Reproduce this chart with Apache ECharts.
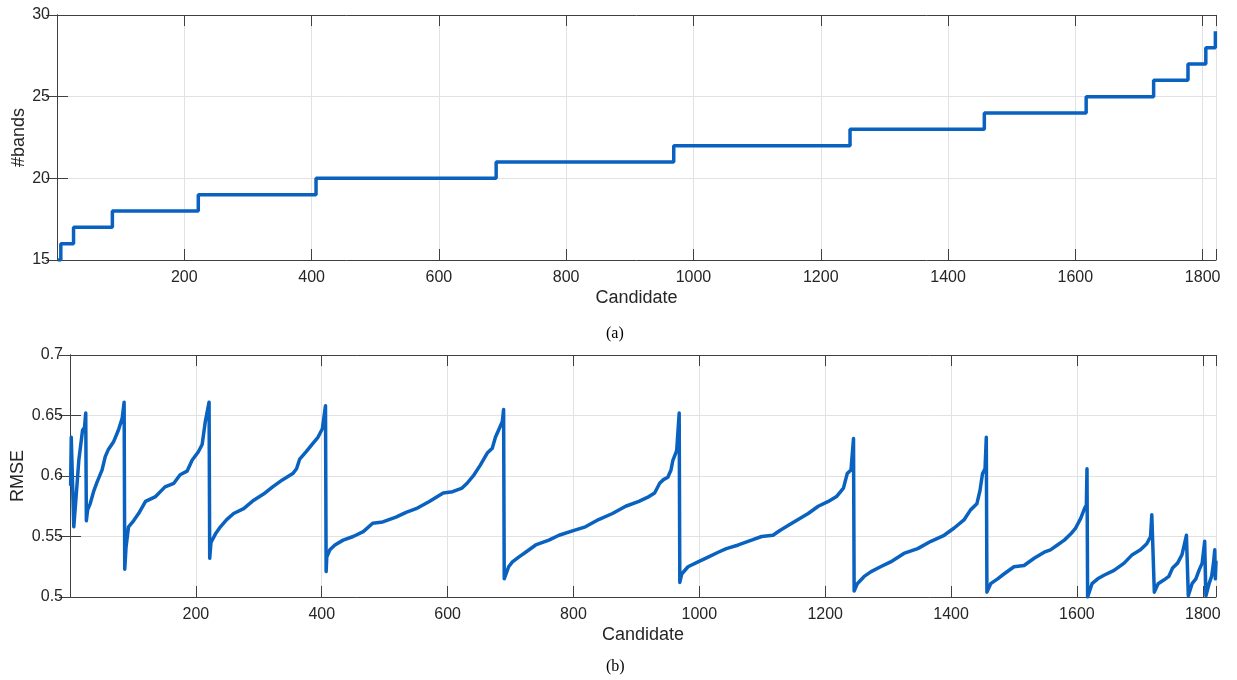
<!DOCTYPE html>
<html><head><meta charset="utf-8">
<script src="https://cdn.jsdelivr.net/npm/echarts@6/dist/echarts.min.js"></script>
<style>html,body{margin:0;padding:0;background:#fff}#c{width:1237px;height:680px}</style>
</head><body><div id="c"></div>
<script>
// ---- data ----
const xTickLabels = [200, 400, 600, 800, 1000, 1200, 1400, 1600, 1800];
const bandTicks = [15, 20, 25, 30];
const rmseTicks = [0.5, 0.55, 0.6, 0.65, 0.7];

// candidate index at which each band count begins
const bandStarts = [1, 6, 26, 87, 222, 407, 690, 969, 1246, 1457, 1617, 1723, 1777, 1805, 1820];
const bandCounts = [15, 16, 17, 18, 19, 20, 21, 22, 23, 24, 25, 26, 27, 28, 29];
const lastCandidate = 1821;

// [candidate, RMSE]
const rmsePoints = [
  [1,0.592],[2,0.632],[5,0.632],
  [6,0.558],[10,0.585],[14,0.613],[20,0.638],[23,0.640],[25,0.652],
  [26,0.563],[28,0.572],[32,0.577],[38,0.588],[43,0.595],[51,0.605],[56,0.616],[61,0.622],[69,0.628],[77,0.638],[83,0.648],[86,0.661],
  [87,0.523],[89,0.541],[93,0.558],[101,0.563],[109,0.569],[120,0.579],[136,0.583],[151,0.591],[165,0.594],[175,0.601],[186,0.604],[194,0.613],[204,0.620],[210,0.626],[215,0.645],[221,0.661],
  [222,0.532],[224,0.545],[231,0.552],[239,0.558],[249,0.564],[260,0.569],[276,0.573],[292,0.580],[310,0.586],[322,0.591],[338,0.597],[354,0.602],[360,0.606],[365,0.614],[375,0.620],[386,0.627],[394,0.632],[401,0.639],[406,0.658],
  [407,0.521],[408,0.533],[413,0.539],[421,0.543],[434,0.547],[450,0.550],[466,0.554],[481,0.561],[497,0.562],[518,0.566],[534,0.570],[550,0.573],[571,0.579],[593,0.586],[608,0.587],[623,0.590],[631,0.594],[642,0.601],[652,0.609],[663,0.619],[671,0.623],[676,0.632],[682,0.639],[687,0.645],[689,0.655],
  [690,0.515],[697,0.525],[703,0.529],[713,0.533],[724,0.537],[740,0.543],[761,0.547],[777,0.551],[801,0.555],[819,0.558],[840,0.564],[862,0.569],[883,0.575],[904,0.579],[920,0.583],[929,0.586],[937,0.594],[943,0.597],[950,0.599],[955,0.605],[958,0.613],[964,0.621],[968,0.652],
  [969,0.512],[972,0.519],[982,0.525],[998,0.529],[1014,0.533],[1030,0.537],[1043,0.540],[1062,0.543],[1083,0.547],[1099,0.550],[1117,0.551],[1128,0.555],[1141,0.559],[1157,0.564],[1173,0.569],[1189,0.575],[1205,0.579],[1218,0.583],[1229,0.590],[1235,0.602],[1241,0.605],[1245,0.631],
  [1246,0.505],[1251,0.511],[1262,0.517],[1273,0.521],[1288,0.525],[1304,0.529],[1325,0.536],[1347,0.540],[1368,0.546],[1389,0.551],[1405,0.557],[1421,0.564],[1431,0.572],[1441,0.577],[1446,0.588],[1450,0.602],[1454,0.606],[1456,0.632],
  [1457,0.504],[1463,0.511],[1474,0.515],[1484,0.519],[1500,0.525],[1516,0.526],[1532,0.532],[1548,0.537],[1558,0.539],[1569,0.543],[1580,0.547],[1590,0.552],[1598,0.557],[1606,0.565],[1612,0.573],[1615,0.576],[1616,0.606],
  [1617,0.500],[1624,0.511],[1633,0.515],[1643,0.518],[1659,0.522],[1675,0.528],[1688,0.535],[1701,0.539],[1711,0.544],[1717,0.550],[1719,0.568],[1722,0.569],
  [1723,0.504],[1729,0.511],[1738,0.514],[1746,0.517],[1752,0.524],[1760,0.528],[1767,0.535],[1771,0.544],[1774,0.551],[1776,0.551],
  [1777,0.501],[1783,0.511],[1789,0.515],[1794,0.522],[1799,0.528],[1803,0.546],[1804,0.545],
  [1805,0.501],[1810,0.511],[1814,0.517],[1817,0.528],[1819,0.539],
  [1820,0.515],[1821,0.530]
];

// ---- build ----
const bandData = bandStarts.map((s, i) => [s, bandCounts[i]]);
bandData.push([lastCandidate, bandCounts[bandCounts.length - 1]]);

const AX = '#404040', TXT = '#262626', GRIDC = '#e2e2e2', LINE = '#0a62c0';
const FONT = 'Liberation Sans, Arial, Helvetica, sans-serif';

function xAx(gi, primary) {
  return {
    type: 'value', gridIndex: gi, position: primary ? 'bottom' : 'top',
    min: 0, max: lastCandidate, interval: 200,
    axisLine: { show: true, lineStyle: { color: AX, width: 1 } },
    axisTick: { show: true, inside: true, length: 11, lineStyle: { color: AX, width: 1 } },
    axisLabel: primary ? {
      show: true, color: TXT, fontSize: 16, fontFamily: FONT, margin: 10,
      formatter: v => xTickLabels.indexOf(v) >= 0 ? String(v) : ''
    } : { show: false },
    splitLine: { show: primary, lineStyle: { color: GRIDC, width: 1 } },
    name: primary ? 'Candidate' : '', nameLocation: 'middle', nameGap: 29, nameMoveOverlap: false,
    nameTextStyle: { color: TXT, fontSize: 18, fontFamily: FONT }
  };
}
function yAx(gi, primary, ticks, name, gap) {
  return {
    type: 'value', gridIndex: gi, position: primary ? 'left' : 'right',
    min: ticks[0], max: ticks[ticks.length - 1], interval: +(ticks[1] - ticks[0]).toFixed(4),
    axisLine: { show: true, lineStyle: { color: AX, width: 1 } },
    axisTick: { show: true, inside: true, length: 11, lineStyle: { color: AX, width: 1 } },
    axisLabel: primary ? { show: true, color: TXT, fontSize: 16, fontFamily: FONT, margin: 7 } : { show: false },
    splitLine: { show: primary, lineStyle: { color: GRIDC, width: 1 } },
    name: primary ? name : '', nameLocation: 'middle', nameGap: gap, nameMoveOverlap: false,
    nameTextStyle: { color: TXT, fontSize: 18, fontFamily: FONT }
  };
}

const chart = echarts.init(document.getElementById('c'), null, { renderer: 'canvas' });
chart.setOption({
  animation: false,
  backgroundColor: '#fff',
  grid: [
    { left: 57, top: 15, width: 1159, height: 245, outerBoundsMode: 'none', containLabel: false },
    { left: 70, top: 355, width: 1146, height: 242, outerBoundsMode: 'none', containLabel: false }
  ],
  xAxis: [xAx(0, true), xAx(0, false), xAx(1, true), xAx(1, false)],
  yAxis: [yAx(0, true, bandTicks, '#bands', 29), yAx(0, false, bandTicks, '', 0),
          yAx(1, true, rmseTicks, 'RMSE', 43), yAx(1, false, rmseTicks, '', 0)],
  series: [
    { type: 'line', xAxisIndex: 0, yAxisIndex: 0, step: 'end', data: bandData,
      showSymbol: false, lineStyle: { color: LINE, width: 3.5 } },
    { type: 'line', xAxisIndex: 2, yAxisIndex: 2, data: rmsePoints,
      showSymbol: false, lineStyle: { color: LINE, width: 3.5, join: 'round' } }
  ],
  graphic: [
    { type: 'text', left: 606, top: 326, style: { text: '(a)', fill: '#000', font: '16px "Liberation Serif", "Times New Roman", serif' } },
    { type: 'text', left: 606, top: 659, style: { text: '(b)', fill: '#000', font: '16px "Liberation Serif", "Times New Roman", serif' } }
  ]
});
</script></body></html>
